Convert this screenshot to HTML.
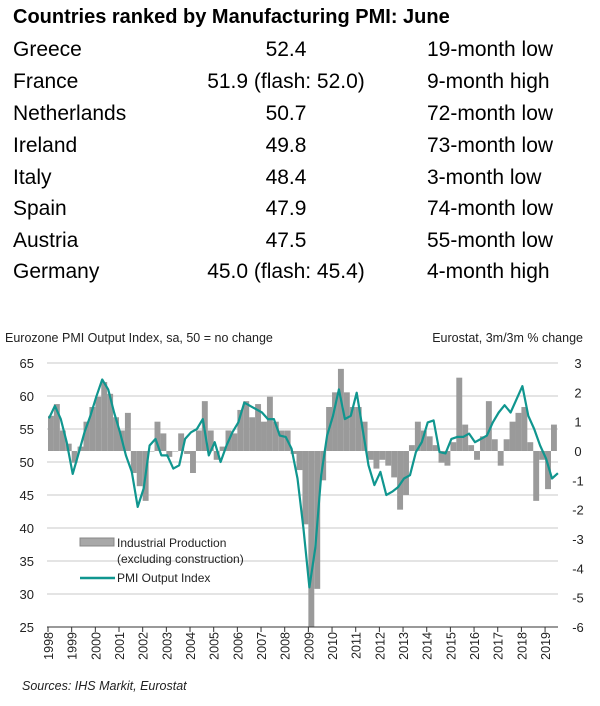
<!DOCTYPE html>
<html><head><meta charset="utf-8">
<style>
body{margin:0;background:#fff;width:600px;height:706px;overflow:hidden;font-family:"Liberation Sans",Arial,sans-serif;}
#wrap{position:relative;width:600px;height:706px;}
.title{position:absolute;left:13px;top:6px;font-size:20px;font-weight:bold;color:#000;white-space:nowrap;}
.row{position:absolute;left:0;width:600px;height:30px;font-size:21px;color:#000;white-space:nowrap;}
.row .c{position:absolute;left:13px;}
.row .v{position:absolute;left:186px;width:200px;text-align:center;}
.row .n{position:absolute;left:427px;}
svg{position:absolute;left:0;top:0;}
</style></head><body>
<div id="wrap">
<div class="title">Countries ranked by Manufacturing PMI: June</div>
<div class="row" style="top:38px"><span class="c">Greece</span><span class="v">52.4</span><span class="n">19-month low</span></div>
<div class="row" style="top:70px"><span class="c">France</span><span class="v">51.9 (flash: 52.0)</span><span class="n">9-month high</span></div>
<div class="row" style="top:102px"><span class="c">Netherlands</span><span class="v">50.7</span><span class="n">72-month low</span></div>
<div class="row" style="top:134px"><span class="c">Ireland</span><span class="v">49.8</span><span class="n">73-month low</span></div>
<div class="row" style="top:166px"><span class="c">Italy</span><span class="v">48.4</span><span class="n">3-month low</span></div>
<div class="row" style="top:197px"><span class="c">Spain</span><span class="v">47.9</span><span class="n">74-month low</span></div>
<div class="row" style="top:229px"><span class="c">Austria</span><span class="v">47.5</span><span class="n">55-month low</span></div>
<div class="row" style="top:260px"><span class="c">Germany</span><span class="v">45.0 (flash: 45.4)</span><span class="n">4-month high</span></div>
<svg id="chart" width="600" height="706"></svg>
</div>
<script>
const yearLabels=["1998","1999","2000","2001","2002","2003","2004","2005","2006","2007","2008","2009","2010","2011","2012","2013","2014","2015","2016","2017","2018","2019"];
const leftTicks=[25,30,35,40,45,50,55,60,65];
const rightTicks=[-6,-5,-4,-3,-2,-1,0,1,2,3];
// quarterly PMI Output Index from 1998 Q1
const pmiValues=[56.6,58.5,56.5,53,48.2,51.3,54.5,57,59.9,62.5,61,57.5,54.5,51,48.5,43.2,46,52.5,53.5,51,51,49,49.5,53.5,54.5,55,56.5,51,53,50,52.5,54.5,56,59,58.5,58,57.5,56.5,56.5,54,53.8,52,47.5,40,31,37,48,54,57,61,56.5,57,60.5,55,49.5,46.5,48.5,45,45.5,46.2,47.5,48,51.5,53,56,56.3,51.5,51.3,53.5,53.8,53.8,54.3,53,53.5,54,56,57.5,58.6,57.5,59.5,61.5,57,55,52.5,50.5,47.5,48.3];
// quarterly industrial production 3m/3m % change from 1998 Q1
const ipValues=[1.2,1.6,0.7,0.25,-0.4,0.15,1.0,1.5,1.85,2.35,1.95,1.15,0.7,1.3,-0.75,-1.2,-1.7,0,1.0,0.6,-0.2,0,0.6,-0.1,-0.75,0.7,1.7,0.7,-0.3,0.15,0.7,0.6,1.4,1.7,1.15,1.6,1.0,1.85,1.0,0.7,0.7,-0.1,-0.65,-2.5,-6,-4.7,-1.0,1.5,2.0,2.8,2.0,1.5,1.5,1.0,-0.3,-0.6,-0.3,-0.5,-0.9,-2.0,-1.5,0.2,1.0,0.7,0.5,0.2,-0.4,-0.5,0.3,2.5,0.9,0.2,-0.3,0.5,1.7,0.4,-0.5,0.4,1.0,1.3,1.5,0.3,-1.7,-0.3,-1.3,0.9];
const svg=document.getElementById('chart');
const NS='http://www.w3.org/2000/svg';
const X0=48,YPX=23.67,PL=47,PR=558;
function xs(t){return X0+YPX*t;}
function yl(v){return 627-(v-25)*6.6;}
function yr(v){return 451-v*29.33;}
function mk(tag,attrs){const e=document.createElementNS(NS,tag);for(const k in attrs)e.setAttribute(k,attrs[k]);svg.appendChild(e);return e;}
// gridlines
leftTicks.forEach(v=>{if(v>25){const g=mk('line',{x1:PL,x2:PR,y1:yl(v),y2:yl(v),stroke:'#c8c8c8','stroke-width':1});

}
const t=mk('text',{x:34,y:yl(v)+5,'text-anchor':'end','font-size':13,fill:'#222'});t.textContent=v;

});
rightTicks.forEach(v=>{const t=mk('text',{x:578,y:yr(v)+5,'text-anchor':'middle','font-size':13,fill:'#222'});t.textContent=v;

});
// bars
ipValues.forEach((v,i)=>{const x=xs(i/4);const y0=yr(0),y1=yr(v);
const b=mk('rect',{x:x,y:Math.min(y0,y1),width:YPX/4,height:Math.max(0.5,Math.abs(y1-y0)),fill:'#9a9a9a'});

});
// line
const pts=pmiValues.map((v,i)=>xs(i/4+1/24).toFixed(1)+','+yl(v).toFixed(1)).join(' ');
const pl=mk('polyline',{points:pts,fill:'none',stroke:'#10968f','stroke-width':2.2,'stroke-linejoin':'round'});


// x axis
const ax=mk('line',{x1:PL,x2:PR,y1:627,y2:627,stroke:'#333','stroke-width':1});


yearLabels.forEach((y,i)=>{const x=xs(i);
const tk=mk('line',{x1:x,x2:x,y1:627,y2:632,stroke:'#333'});


const t=mk('text',{x:0,y:0,'font-size':12.5,fill:'#222','text-anchor':'end',transform:`translate(${x+5},632) rotate(-90)`});t.textContent=y;

});
// titles
const t1=mk('text',{x:5,y:342,'font-size':12.5,fill:'#222'});t1.textContent='Eurozone PMI Output Index, sa, 50 = no change';


const t2=mk('text',{x:583,y:342,'font-size':12.5,fill:'#222','text-anchor':'end'});t2.textContent='Eurostat, 3m/3m % change';


// legend
const lb=mk('rect',{x:80,y:538,width:34,height:8,fill:'#a8a8a8',stroke:'#888'});


const l1=mk('text',{x:117,y:547,'font-size':12,fill:'#222'});l1.textContent='Industrial Production';


const l2=mk('text',{x:117,y:563,'font-size':12,fill:'#222'});l2.textContent='(excluding construction)';


const ll=mk('line',{x1:80,x2:115,y1:578,y2:578,stroke:'#10968f','stroke-width':2.5});


const l3=mk('text',{x:117,y:582,'font-size':12,fill:'#222'});l3.textContent='PMI Output Index';


const src=mk('text',{x:22,y:690,'font-size':12.5,fill:'#222','font-style':'italic'});src.textContent='Sources: IHS Markit, Eurostat';


</script>
</body></html>
